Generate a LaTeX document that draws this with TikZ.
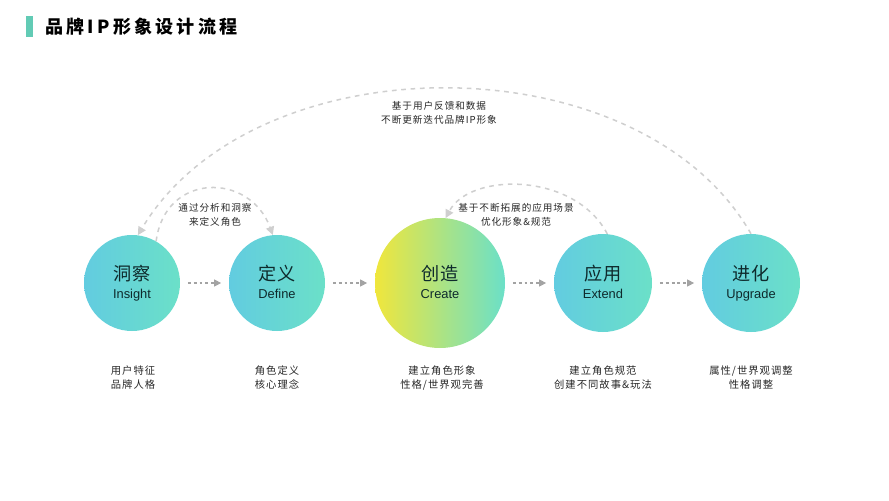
\documentclass[tikz,border=0pt]{standalone}
\usepackage{fontspec}
\usepackage{xcolor}
\usetikzlibrary{arrows.meta}
\newfontfamily\cjk{Noto Sans CJK SC}
\newfontfamily\cjkwide[LetterSpace=10]{Noto Sans CJK SC}
\newfontfamily\cjktitle[LetterSpace=18]{Noto Sans CJK SC}
\setmainfont{Liberation Sans}
\definecolor{barteal}{HTML}{62CBB5}
\definecolor{ballblue}{HTML}{62CCE0}
\definecolor{ballgreen}{HTML}{6BE0C8}
\definecolor{ballyellow}{HTML}{F0E63C}
\definecolor{inkdark}{HTML}{0E2A2C}
\definecolor{arcgrey}{HTML}{CFCFCF}
\definecolor{stepgrey}{HTML}{A3A3A3}
\tikzset{
  ball/.style={circle,inner sep=0pt,minimum size=#1*0.06cm,text=inkdark,align=center},
  note/.style={font=\cjkwide\fontsize{8.2}{12}\selectfont,text=black!85,align=center,inner sep=0pt},
  caption/.style={note,font=\cjkwide\fontsize{8.8}{12}\selectfont},
  arcline/.style={arcgrey,line width=1.3pt,dash pattern=on 4pt off 4pt,-{Triangle[length=7pt,width=7pt]}},
  stepline/.style={stepgrey,line width=0.9pt,dash pattern=on 2.5pt off 2.5pt,-{Triangle[length=6pt,width=6pt]},shorten >=6.5pt,shorten <=6.5pt}
}
\newcommand{\balltext}[2]{{\cjk\fontsize{15.5}{21}\selectfont #1}\\[3.6pt]{\fontsize{11}{13}\selectfont\vphantom{Ag}#2}}
\begin{document}
\begin{tikzpicture}[x=0.03cm,y=-0.03cm]
\useasboundingbox (0,0) rectangle (889,500);
% title
\fill[barteal] (26,16) rectangle (33,37);
\node[anchor=west,inner sep=0pt,font=\cjktitle\bfseries\fontsize{15.4}{18}\selectfont] (title) at (45,27) {品牌IP形象设计流程};

% circles
\foreach \name/\x/\r/\lcol/\cn/\en in {insight/132/48/ballblue/洞察/Insight,
    define/277/48/ballblue/定义/Define,
    create/440/65/ballyellow/创造/Create,
    extend/603/49/ballblue/应用/Extend,
    upgrade/751/49/ballblue/进化/Upgrade}
  \node[ball=\r,left color=\lcol,right color=ballgreen] (\name) at (\x,283) {\balltext{\cn}{\en}};

% captions
\foreach \name/\x/\txt in {insight/133/{用户特征\\品牌人格},
    define/277/{角色定义\\核心理念},
    create/442/{建立角色形象\\性格/世界观完善},
    extend/603/{建立角色规范\\创建不同故事\&玩法},
    upgrade/751/{属性/世界观调整\\性格调整}}
  \node[caption] (\name-note) at (\x,378) {\txt};

\node[note] (biglabel) at (439,113) {基于用户反馈和数据\\不断更新迭代品牌IP形象};
\node[note] (leftlabel) at (215,215) {通过分析和洞察\\来定义角色};
\node[note] (rightlabel) at (516,215) {基于不断拓展的应用场景\\优化形象\&规范};

% steps
\draw[stepline] (insight) -- (define);
\draw[stepline] (define) -- (create);
\draw[stepline] (create) -- (extend);
\draw[stepline] (extend) -- (upgrade);

% arcs
\draw[arcline] (upgrade.north) .. controls (640,40) and (255,40) .. (insight.83);
\draw[arcline] (insight.60) .. controls (165,172) and (250,172) .. (define.95);
\draw[arcline] (extend.85) .. controls (575,172) and (470,172) .. (create.85);
\end{tikzpicture}
\end{document}
